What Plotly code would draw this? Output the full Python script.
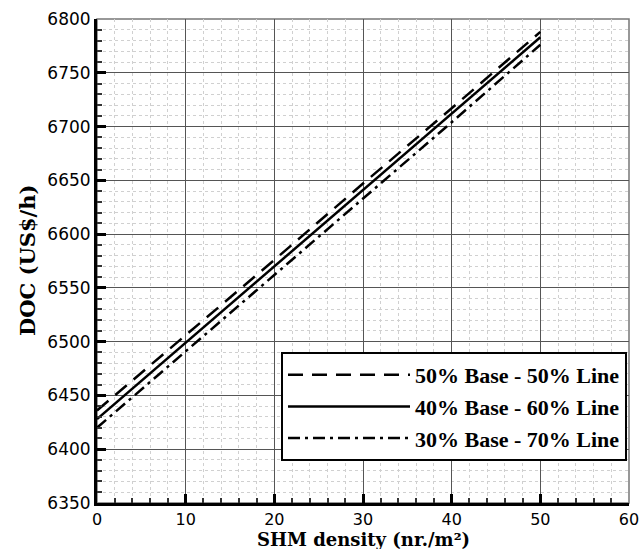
import plotly.graph_objects as go

shm_density = [0, 10, 20, 30, 40, 50]
doc_50_50 = [6436, 6506, 6576, 6647, 6717, 6788]
doc_40_60 = [6428, 6499, 6570, 6641, 6712, 6783]
doc_30_70 = [6420, 6491, 6562, 6633, 6704, 6776]
series_names = ["50% Base - 50% Line", "40% Base - 60% Line", "30% Base - 70% Line"]
x_ticks = [0, 10, 20, 30, 40, 50, 60]
y_ticks = [6350, 6400, 6450, 6500, 6550, 6600, 6650, 6700, 6750, 6800]

serif = "Liberation Serif"
title_serif = "DejaVu Serif"
sans = "DejaVu Sans, sans-serif"

fig = go.Figure()
styles = [("15px,9px", doc_50_50), ("solid", doc_40_60), ("12px,5px,3px,5px", doc_30_70)]
for name, (dash, ys) in zip(series_names, styles):
    fig.add_trace(go.Scatter(x=shm_density, y=ys, mode="lines", name=name,
                             line=dict(color="black", width=2.5, dash=dash)))

axis_common = dict(
    showline=True, linecolor="black", linewidth=3, mirror=False,
    ticks="inside", ticklen=9, tickwidth=3, tickcolor="black",
    showgrid=True, gridcolor="#555555", gridwidth=1,
    zeroline=False, automargin=False, ticklabeloverflow="allow",
)

fig.update_xaxes(range=[0, 60], tickvals=x_ticks,
                 tickfont=dict(family=sans, size=16, color="black"),
                 minor=dict(dtick=2, ticks="inside", ticklen=5, tickwidth=1.5, tickcolor="#333",
                            showgrid=True, gridcolor="#d0d0d0", griddash="dot", gridwidth=1),
                 **axis_common)
fig.update_yaxes(range=[6350, 6800], tickvals=y_ticks,
                 tickfont=dict(family=sans, size=17, color="black"),
                 minor=dict(dtick=10, ticks="inside", ticklen=5, tickwidth=1.5, tickcolor="#333",
                            showgrid=True, gridcolor="#d0d0d0", griddash="dot", gridwidth=1),
                 **axis_common)

fig.add_shape(type="rect", xref="paper", yref="paper", x0=0, x1=1, y0=0, y1=1,
              line=dict(color="#777777", width=1.5), layer="below")

fig.add_annotation(text="<b>SHM density (nr./m²)</b>", xref="paper", yref="paper",
                   x=0.5, y=(503 - 552) / 484, xanchor="center", yanchor="bottom", showarrow=False,
                   font=dict(family=title_serif, size=18, color="black"))
fig.add_annotation(text="<b>DOC (US$/h)</b>", xref="paper", yref="paper",
                   x=-70 / 532, y=0.5, xanchor="center", yanchor="middle", textangle=-90, showarrow=False,
                   font=dict(family=title_serif, size=21, color="black"))

fig.update_layout(
    width=640, height=549,
    margin=dict(l=97, r=11, t=19, b=46),
    plot_bgcolor="white", paper_bgcolor="white",
    showlegend=True,
    legend=dict(x=(627 - 97) / 532, y=(503 - 352) / 484, xanchor="right", yanchor="top",
                bgcolor="white", bordercolor="black", borderwidth=2,
                font=dict(family=serif, size=22, color="black", weight="bold"),
                itemwidth=122, tracegroupgap=0),
)

fig.write_html("out.html", config={"displayModeBar": False},
               post_script="document.body.style.margin='0';document.body.style.overflow='hidden';")
